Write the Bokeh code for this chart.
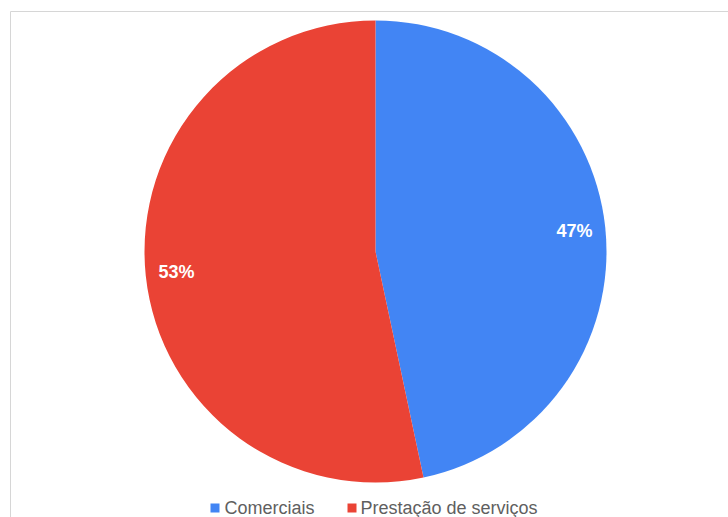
import math
from bokeh.plotting import figure
from bokeh.models import Range1d, ColumnDataSource
from bokeh.core.properties import value
from bokeh.embed import file_html
from bokeh.resources import INLINE

# ---- data ----
categories = ["Comerciais", "Prestação de serviços"]
counts = [7, 8]
colors = ["#4285F4", "#EA4335"]

# ---- layout (pixels, image coordinates) ----
W, H = 728, 517
CX, CY, R = 375, 251, 231
LABEL_DIST = 0.866
legend_square_x = [214.5, 351.5]
legend_text_x = [224, 360]
legend_y = 507.5

def fy(y):
    return H - y

total = sum(counts)
starts, ends, lx, ly, labels = [], [], [], [], []
a = math.pi / 2
for c in counts:
    sweep = 2 * math.pi * c / total
    s, e = a, a - sweep
    starts.append(s)
    ends.append(e)
    mid = (s + e) / 2
    lx.append(CX + LABEL_DIST * R * math.cos(mid))
    ly.append(fy(CY) + LABEL_DIST * R * math.sin(mid))
    labels.append(f"{round(100 * c / total)}%")
    a = e

src = ColumnDataSource(dict(cat=categories, start=starts, end=ends, color=colors,
                            lx=lx, ly=ly, label=labels))

p = figure(width=W, height=H, x_range=Range1d(0, W), y_range=Range1d(0, H),
           output_backend="svg", toolbar_location=None, min_border=0)
p.axis.visible = False
p.grid.visible = False
p.outline_line_color = None
p.background_fill_color = "white"
p.border_fill_color = "white"

# frame border lines
p.line([10, W], [fy(11), fy(11)], line_color="#d6d6d6", line_width=1)
p.line([10, 10], [fy(11), 0], line_color="#d6d6d6", line_width=1)

p.wedge(x=CX, y=fy(CY), radius=R, start_angle="start", end_angle="end",
        direction="clock", fill_color="color", line_color=None, source=src)

p.text(x="lx", y="ly", text="label", source=src, text_color="white",
       text_font=value("Liberation Sans"), text_font_style="bold",
       text_font_size="18px", text_align="center", text_baseline="middle")

# legend
p.scatter(x=legend_square_x, y=[fy(legend_y)] * 2, marker="square", size=9,
          fill_color=colors, line_color=None)
p.text(x=legend_text_x, y=[fy(legend_y)] * 2, text=categories,
       text_color="#5f5f5f", text_font=value("Liberation Sans"),
       text_font_size="18px", text_align="left", text_baseline="middle")

open("out.html", "w").write(file_html(p, INLINE))
